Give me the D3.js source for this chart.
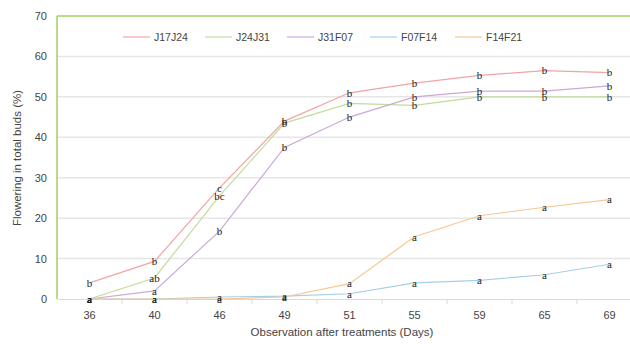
<!DOCTYPE html>
<html><head><meta charset="utf-8">
<script src="https://cdn.jsdelivr.net/npm/d3@7"></script>
<style>body{margin:0;background:#fff}svg{display:block}</style>
</head><body>
<script>
const categories = ["36","40","46","49","51","55","59","65","69"];
const seriesNames = ["J17J24","J24J31","J31F07","F07F14","F14F21"];
const J17J24 = [4, 9.3, 27.5, 44, 51, 53.4, 55.3, 56.5, 56];
const J24J31 = [0, 5.2, 25.5, 43.5, 48.4, 47.9, 50, 50, 50];
const J31F07 = [0, 2, 16.8, 37.5, 45, 50, 51.4, 51.4, 52.7];
const F07F14 = [0, 0, 0.5, 0.7, 1.3, 4, 4.6, 6, 8.6];
const F14F21 = [0, 0, 0, 0.5, 3.8, 15.4, 20.6, 22.7, 24.6];
const lettersJ17J24 = ["b","b","c","b","b","b","b","b","b"];
const lettersJ24J31 = ["a","ab","bc","b","b","b","b","b","b"];
const lettersJ31F07 = ["a","a","b","b","b","b","b","b","b"];
const lettersF07F14 = ["a","a","a","a","a","a","a","a","a"];
const lettersF14F21 = ["a","a","a","a","a","a","a","a","a"];
const yTicks = [0,10,20,30,40,50,60,70];
const colors = ["#f2a4a4","#c2dc9c","#cba8da","#a4d0e6","#f7c793"];

const series = [
  {name:"J17J24", values:J17J24, letters:lettersJ17J24},
  {name:"J24J31", values:J24J31, letters:lettersJ24J31},
  {name:"J31F07", values:J31F07, letters:lettersJ31F07},
  {name:"F07F14", values:F07F14, letters:lettersF07F14},
  {name:"F14F21", values:F14F21, letters:lettersF14F21}
];

(function(){
const W=630,H=344;
const svg=d3.select("body").append("svg").attr("width",W).attr("height",H);
const pL=57, pR=642, pT=16, pB=299;
const x=d3.scaleBand().domain(categories).range([pL,pR]);
const y=d3.scaleLinear().domain([0,70]).range([pB,pT]);
const font="'Liberation Sans', Arial, sans-serif";

svg.append("g").selectAll("line").data(yTicks.filter(d=>d>0&&d<70)).join("line")
  .attr("x1",pL).attr("x2",W).attr("y1",d=>y(d)).attr("y2",d=>y(d))
  .attr("stroke","#e6e6e6").attr("stroke-width",1.5);

const xAxis=d3.axisBottom(x).tickSize(0).tickPadding(12);
const gx=svg.append("g").attr("transform",`translate(0,${pB})`).call(xAxis);
gx.select(".domain").attr("stroke","#d9d9d9").attr("stroke-width",1.2);
gx.selectAll("text").attr("font-family",font).attr("font-size",11).attr("fill","#444");
svg.append("g").selectAll("line").data(categories.slice(1)).join("line")
  .attr("x1",d=>x(d)).attr("x2",d=>x(d)).attr("y1",pB).attr("y2",pB+5)
  .attr("stroke","#d9d9d9");

const yAxis=d3.axisLeft(y).tickValues(yTicks).tickSize(0).tickPadding(10);
const gy=svg.append("g").attr("transform",`translate(${pL},0)`).call(yAxis);
gy.select(".domain").remove();
gy.selectAll("text").attr("font-family",font).attr("font-size",11).attr("fill","#444");

svg.append("line").attr("x1",pL).attr("x2",W).attr("y1",pT).attr("y2",pT).attr("stroke","#9fd066").attr("stroke-width",1.5);
svg.append("line").attr("x1",pL).attr("x2",pL).attr("y1",pT).attr("y2",pB).attr("stroke","#9fd066").attr("stroke-width",1.5);

const line=d3.line().x((d,i)=>x(categories[i])+x.bandwidth()/2).y(d=>y(d));
svg.append("g").selectAll("path").data(series).join("path")
  .attr("d",d=>line(d.values)).attr("fill","none")
  .attr("stroke",(d,i)=>colors[i]).attr("stroke-width",1.2);

series.forEach(s=>{
  svg.append("g").selectAll("text").data(s.values).join("text")
    .attr("x",(d,i)=>x(categories[i])+x.bandwidth()/2)
    .attr("y",d=>y(d)).attr("dy","0.35em")
    .attr("text-anchor","middle")
    .attr("font-family","'Liberation Serif', 'DejaVu Serif', serif")
    .attr("font-size",11).attr("fill","#222")
    .text((d,i)=>s.letters[i]);
});

const legX=[123,205,287,370,455];
const lg=svg.append("g");
series.forEach((s,i)=>{
  lg.append("line").attr("x1",legX[i]).attr("x2",legX[i]+27).attr("y1",37).attr("y2",37)
    .attr("stroke",colors[i]).attr("stroke-width",1.2);
  lg.append("text").attr("x",legX[i]+31).attr("y",37).attr("dy","0.35em")
    .attr("font-family",font).attr("font-size",10.5).attr("fill","#444").text(s.name);
});

svg.append("text").attr("x",342).attr("y",336).attr("text-anchor","middle")
  .attr("font-family",font).attr("font-size",11.5).attr("fill","#444")
  .text("Observation after treatments (Days)");
svg.append("text").attr("transform","translate(21,158) rotate(-90)").attr("text-anchor","middle")
  .attr("font-family",font).attr("font-size",11.5).attr("fill","#444")
  .text("Flowering  in total buds (%)");
})();
</script>
</body></html>
